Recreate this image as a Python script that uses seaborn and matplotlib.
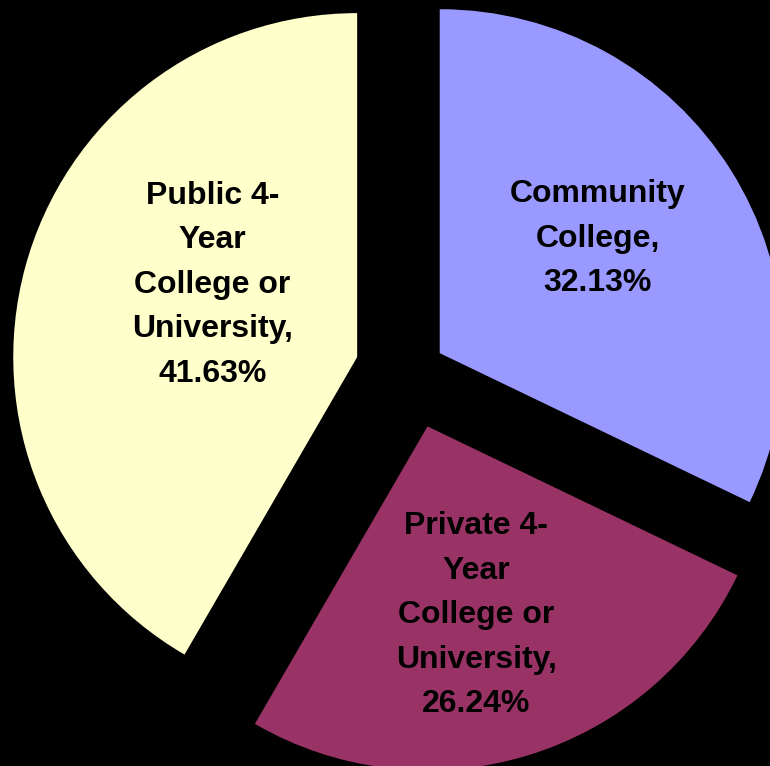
import numpy as np
import matplotlib
matplotlib.use("Agg")
import matplotlib.pyplot as plt
import seaborn as sns

# Share of students by type of institution
labels = ["Community\nCollege,\n32.13%",
          "Private 4-\nYear\nCollege or\nUniversity,\n26.24%",
          "Public 4-\nYear\nCollege or\nUniversity,\n41.63%"]
shares = [32.13, 26.24, 41.63]
slice_colors = ["#9999FF", "#993366", "#FFFFCC"]
explode = [0.10, 0.167, 0.161]
# label offset from each slice's tip: (distance in radii, angle in degrees)
label_offsets = [(0.567, 36.0), (0.567, -75.5), (0.47, 153.5)]

sns.set_style("white")
plt.rcParams['font.family'] = ['Liberation Sans', 'DejaVu Sans']

fig = plt.figure(figsize=(7.7, 7.66), dpi=100, facecolor="black")
ax = fig.add_axes([0, 0, 1, 1])
ax.set_facecolor("black")

wedges, texts = ax.pie(shares, labels=labels, colors=sns.color_palette(slice_colors),
                       explode=explode, startangle=90, counterclock=False,
                       labeldistance=0.55,
                       wedgeprops=dict(linewidth=0),
                       textprops=dict(fontsize=23, fontweight="bold", color="black",
                                      ha="center", va="center", linespacing=1.63))

# move labels to where the original chart put them, relative to each slice tip
for w, t, (dist, ang) in zip(wedges, texts, label_offsets):
    cx, cy = w.center
    a = np.deg2rad(ang)
    t.set_position((cx + dist * np.cos(a), cy + dist * np.sin(a)))
    t.set_horizontalalignment("center")

ax.set_aspect("auto")
ax.set_xlim(-1.194, 1.045)
ax.set_ylim(-1.147, 1.080)
ax.axis("off")

fig.savefig("out.png", dpi=100, facecolor="black")
